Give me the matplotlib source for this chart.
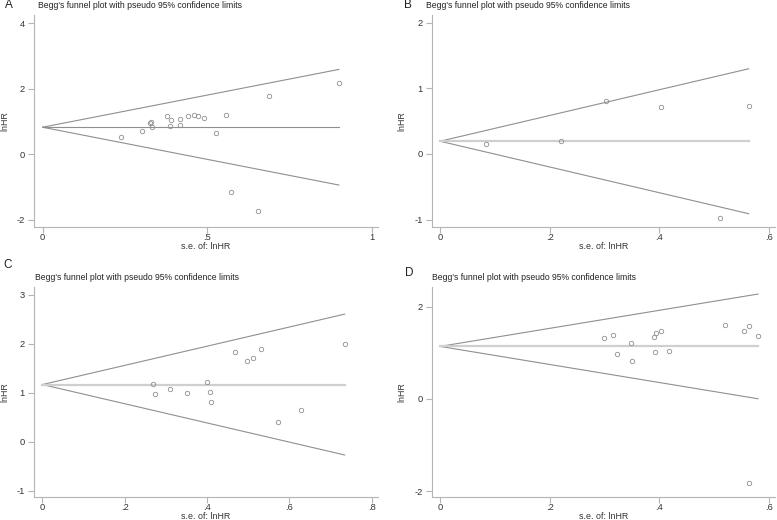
import matplotlib.pyplot as plt
import numpy as np
from matplotlib.ticker import FuncFormatter

plt.rcParams["font.family"] = ["Liberation Sans", "DejaVu Sans"]

# panel A
se_a = [0.237, 0.303, 0.326, 0.328, 0.332, 0.379, 0.386, 0.391, 0.419, 0.419,
        0.442, 0.459, 0.471, 0.490, 0.527, 0.556, 0.571, 0.655, 0.688, 0.900]
lnhr_a = [0.53, 0.72, 0.94, 0.98, 0.83, 1.16, 0.85, 1.05, 1.08, 0.89,
          1.17, 1.19, 1.17, 1.11, 0.65, 1.19, -1.15, -1.72, 1.77, 2.18]
pooled_a = 0.825

# panel B
se_b = [0.083, 0.221, 0.303, 0.403, 0.510, 0.563]
lnhr_b = [0.147, 0.203, 0.81, 0.707, -0.97, 0.722]
pooled_b = 0.193

# panel C
se_c = [0.268, 0.273, 0.309, 0.351, 0.400, 0.406, 0.409, 0.468, 0.496, 0.511,
        0.531, 0.571, 0.627, 0.734]
lnhr_c = [1.18, 0.98, 1.075, 1.00, 1.21, 1.01, 0.81, 1.84, 1.65, 1.70,
          1.89, 0.40, 0.65, 1.99]
pooled_c = 1.167

# panel D
se_d = [0.299, 0.316, 0.322, 0.348, 0.351, 0.391, 0.394, 0.393, 0.403, 0.418,
        0.520, 0.555, 0.564, 0.564, 0.580]
lnhr_d = [1.33, 1.38, 0.97, 1.22, 0.83, 1.35, 1.43, 1.02, 1.48, 1.05,
          1.61, 1.47, 1.59, -1.83, 1.36]
pooled_d = 1.14

TITLE = "Begg's funnel plot with pseudo 95% confidence limits"
W, H = 777, 520
GREY = "#8f8f8f"
TEXT = "#333333"
FS = 6.4


def stata_fmt(v, pos):
    s = f"{v:g}"
    if s.startswith("0."):
        s = s[1:]
    elif s.startswith("-0."):
        s = "-" + s[2:]
    return s


def funnel(fig, box, se, lnhr, pooled, xlim, ylim, xticks, yticks, center_style, ylab_x):
    left, top, right, bottom = box
    wpx, hpx = right - left, bottom - top
    ax = fig.add_axes([left / W, 1 - bottom / H, wpx / W, hpx / H])
    se = np.array(se)
    xs = np.array([0, se.max()])
    ax.plot(xs, pooled + 1.96 * xs, color=GREY, lw=0.8)
    ax.plot(xs, pooled - 1.96 * xs, color=GREY, lw=0.8)
    ax.plot(xs, [pooled, pooled], **center_style)
    ax.plot(se, lnhr, "o", ms=3.2, mfc="none", mec=GREY, mew=0.6)
    ax.set_xlim(*xlim)
    ax.set_ylim(*ylim)
    ax.set_xticks(xticks)
    ax.set_yticks(yticks)
    ax.xaxis.set_major_formatter(FuncFormatter(stata_fmt))
    ax.yaxis.set_major_formatter(FuncFormatter(stata_fmt))
    for s in ["top", "right"]:
        ax.spines[s].set_visible(False)
    for s in ["left", "bottom"]:
        ax.spines[s].set_color("#b4b4b4")
        ax.spines[s].set_linewidth(0.8)
    ax.tick_params(direction="out", length=4, width=0.8, color="#b4b4b4",
                   labelsize=FS + 0.3, labelcolor=TEXT)
    ax.tick_params(axis="x", pad=0.3)
    ax.tick_params(axis="y", pad=2.5)
    ax.set_xlabel("s.e. of: lnHR", fontsize=FS, color=TEXT, va="center")
    ax.xaxis.set_label_coords(0.5, -19.5 / hpx)
    ax.set_ylabel("lnHR", fontsize=FS, color=TEXT, va="center")
    ax.yaxis.set_label_coords((ylab_x - left) / wpx, 0.5)
    return ax


fig = plt.figure(figsize=(W / 100, H / 100), dpi=100)

thin = dict(color=GREY, lw=0.8)
thick = dict(color="#cfcfcf", lw=1.6)

funnel(fig, (34, 15, 378, 227), se_a, lnhr_a, pooled_a, (-0.026, 1.019), (-2.22, 4.25),
       [0, 0.5, 1], [-2, 0, 2, 4], thin, 5)
funnel(fig, (432, 15, 775, 227), se_b, lnhr_b, pooled_b, (-0.0146, 0.611), (-1.113, 2.115),
       [0, 0.2, 0.4, 0.6], [-1, 0, 1, 2], thick, 402)
funnel(fig, (34, 287, 378, 497), se_c, lnhr_c, pooled_c, (-0.0204, 0.815), (-1.13, 3.16),
       [0, 0.2, 0.4, 0.6, 0.8], [-1, 0, 1, 2, 3], thick, 5)
funnel(fig, (432, 287, 775, 497), se_d, lnhr_d, pooled_d, (-0.0146, 0.611), (-2.13, 2.43),
       [0, 0.2, 0.4, 0.6], [-2, 0, 2], thick, 402)

# panel letters and titles (baseline positions in pixels)
for lx, ly, tx, ty, letter in [(5, 8.5, 38, 7.5, "A"), (404, 7.5, 426, 7.5, "B"),
                               (3, 267.5, 35, 280.5, "C"), (405, 276.5, 432, 280.5, "D")]:
    fig.text(lx / W, 1 - ly / H, letter, fontsize=8.5, va="baseline", ha="left", color="#222222")
    fig.text(tx / W, 1 - ty / H, TITLE, fontsize=6.2, va="baseline", ha="left", color="#222222")

fig.savefig("out.png", dpi=100)
